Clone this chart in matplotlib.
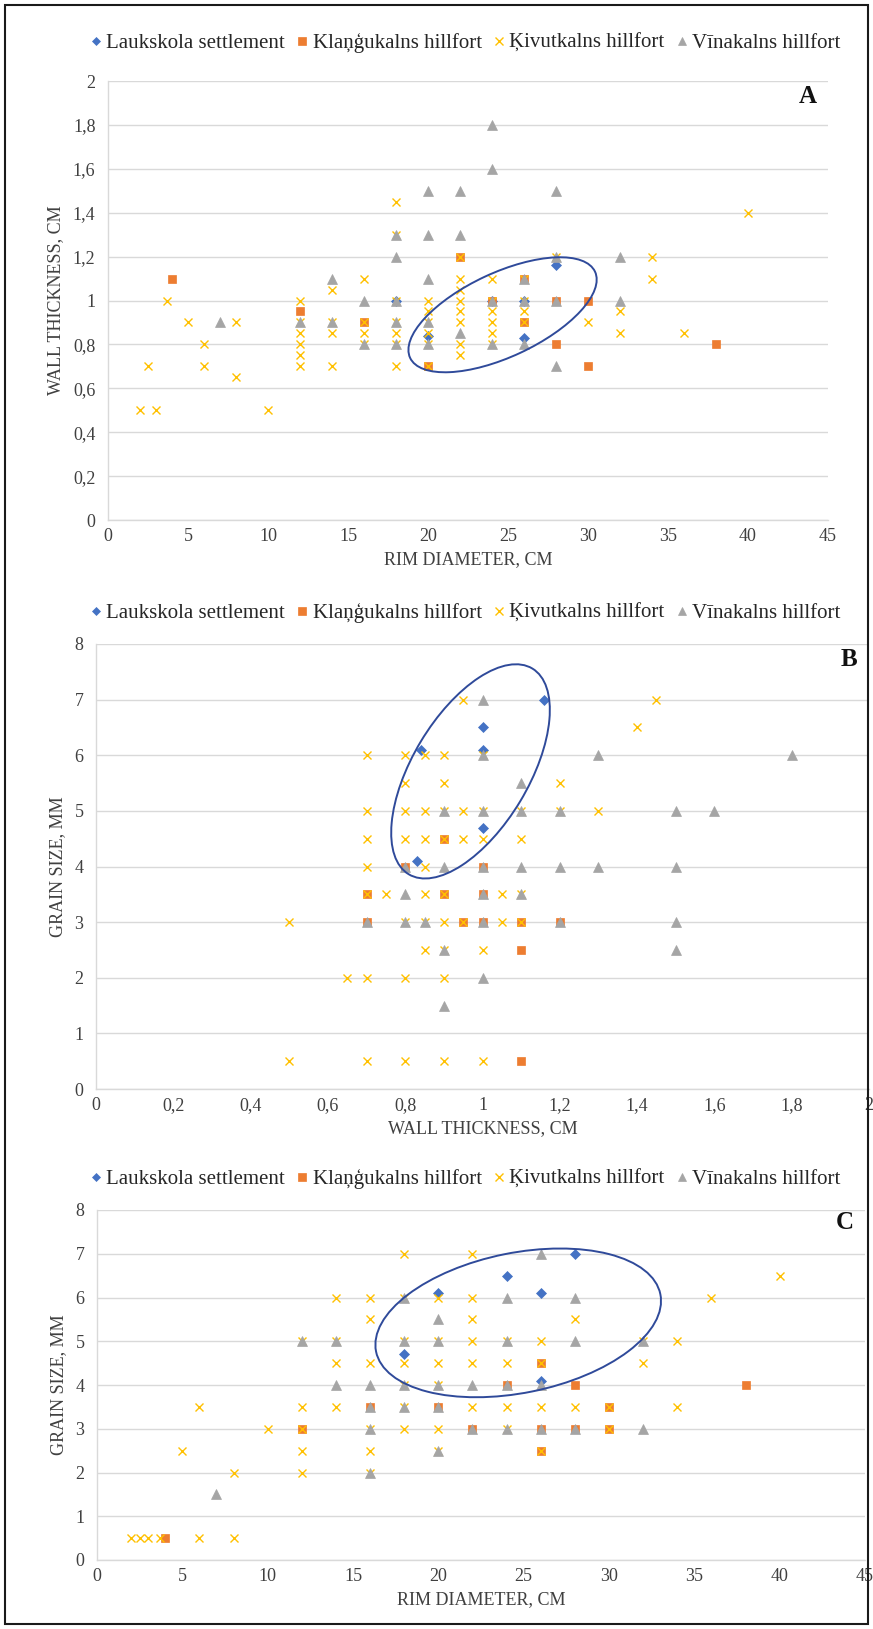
import matplotlib.pyplot as plt
from matplotlib.patches import Ellipse, Rectangle
from matplotlib.transforms import ScaledTranslation

plt.rcParams['font.family'] = ['Liberation Serif', 'DejaVu Serif']

names = ["Laukskola settlement", "Klaņģukalns hillfort", "Ķivutkalns hillfort", "Vīnakalns hillfort"]

# ---- panel A: rim diameter vs wall thickness
a_lauk_x = [18, 20, 24, 26, 26, 28]
a_lauk_y = [1.0, 0.84, 1.0, 1.0, 0.83, 1.16]
a_klan_x = [4, 12, 16, 20, 22, 24, 26, 26, 28, 28, 30, 30, 38]
a_klan_y = [1.1, 0.95, 0.9, 0.7, 1.2, 1.0, 1.1, 0.9, 1.0, 0.8, 1.0, 0.7, 0.8]
a_kiv_x = [2, 3, 2.5, 3.7, 5, 6, 6, 8, 8, 10,
           12, 12, 12, 12, 12, 12, 14, 14, 14, 14, 16, 16, 16, 16,
           18, 18, 18, 18, 18, 18, 18, 20, 20, 20, 20, 20, 20,
           22, 22, 22, 22, 22, 22, 22, 22, 24, 24, 24, 24, 24, 24,
           26, 26, 26, 26, 28, 30, 32, 32, 34, 34, 36, 40]
a_kiv_y = [0.5, 0.5, 0.7, 1.0, 0.9, 0.8, 0.7, 0.9, 0.65, 0.5,
           1.0, 0.9, 0.85, 0.8, 0.75, 0.7, 1.05, 0.9, 0.85, 0.7, 1.1, 0.9, 0.85, 0.8,
           1.45, 1.3, 1.0, 0.9, 0.85, 0.8, 0.7, 1.0, 0.95, 0.9, 0.85, 0.8, 0.7,
           1.2, 1.1, 1.05, 1.0, 0.95, 0.9, 0.8, 0.75, 1.1, 1.0, 0.95, 0.9, 0.85, 0.8,
           1.1, 1.0, 0.95, 0.9, 1.2, 0.9, 0.95, 0.85, 1.2, 1.1, 0.85, 1.4]
a_vin_x = [7, 12, 14, 14, 16, 16, 18, 18, 18, 18, 18, 20, 20, 20, 20, 20,
           22, 22, 22, 24, 24, 24, 24, 26, 26, 26, 28, 28, 28, 28, 32, 32]
a_vin_y = [0.9, 0.9, 1.1, 0.9, 1.0, 0.8, 1.3, 1.2, 1.0, 0.9, 0.8, 1.5, 1.3, 1.1, 0.9, 0.8,
           1.5, 1.3, 0.85, 1.8, 1.6, 1.0, 0.8, 1.1, 1.0, 0.8, 1.5, 1.2, 1.0, 0.7, 1.2, 1.0]

# ---- panel B: wall thickness vs grain size
b_lauk_x = [0.83, 0.84, 1.0, 1.0, 1.0, 1.16]
b_lauk_y = [4.1, 6.1, 6.5, 6.1, 4.7, 7.0]
b_klan_x = [0.7, 0.7, 0.8, 0.9, 0.9, 0.95, 1.0, 1.0, 1.0, 1.1, 1.1, 1.1, 1.2]
b_klan_y = [3.5, 3, 4, 4.5, 3.5, 3, 4, 3.5, 3, 3, 2.5, 0.5, 3]
b_kiv_x = [0.5, 0.5, 0.65,
           0.7, 0.7, 0.7, 0.7, 0.7, 0.7, 0.7, 0.75,
           0.8, 0.8, 0.8, 0.8, 0.8, 0.8, 0.8,
           0.85, 0.85, 0.85, 0.85, 0.85, 0.85, 0.85,
           0.9, 0.9, 0.9, 0.9, 0.9, 0.9, 0.9, 0.9, 0.9,
           0.95, 0.95, 0.95, 0.95, 1.0, 1.0, 1.0, 1.0, 1.0,
           1.05, 1.05, 1.1, 1.1, 1.1, 1.1, 1.2, 1.2, 1.3, 1.4, 1.45]
b_kiv_y = [3, 0.5, 2,
           6, 5, 4.5, 4, 3.5, 2, 0.5, 3.5,
           6, 5.5, 5, 4.5, 3, 2, 0.5,
           6, 5, 4.5, 4, 3.5, 3, 2.5,
           6, 5.5, 5, 4.5, 3.5, 3, 2.5, 2, 0.5,
           7, 5, 4.5, 3, 6, 5, 4.5, 2.5, 0.5,
           3.5, 3, 5, 4.5, 3.5, 3, 5.5, 5, 5, 6.5, 7]
b_vin_x = [0.7, 0.8, 0.8, 0.8, 0.85, 0.9, 0.9, 0.9, 0.9,
           1.0, 1.0, 1.0, 1.0, 1.0, 1.0, 1.0, 1.1, 1.1, 1.1, 1.1,
           1.2, 1.2, 1.2, 1.3, 1.3, 1.5, 1.5, 1.5, 1.5, 1.6, 1.8]
b_vin_y = [3, 4, 3.5, 3, 3, 5, 4, 2.5, 1.5,
           7, 6, 5, 4, 3.5, 3, 2, 5.5, 5, 4, 3.5,
           5, 4, 3, 6, 4, 5, 4, 3, 2.5, 5, 6]

# ---- panel C: rim diameter vs grain size
c_lauk_x = [18, 20, 24, 26, 26, 28]
c_lauk_y = [4.7, 6.1, 6.5, 6.1, 4.1, 7.0]
c_klan_x = [4, 12, 16, 20, 22, 24, 26, 26, 26, 28, 28, 30, 30, 38]
c_klan_y = [0.5, 3, 3.5, 3.5, 3, 4, 4.5, 3, 2.5, 4, 3, 3.5, 3, 4]
c_kiv_x = [2, 2.5, 3, 3.7, 6, 8, 5, 6, 8, 10,
           12, 12, 12, 12, 12, 14, 14, 14, 14, 16, 16, 16, 16, 16, 16,
           18, 18, 18, 18, 18, 18, 18, 20, 20, 20, 20, 20, 20,
           22, 22, 22, 22, 22, 22, 24, 24, 24, 24, 26, 26, 26, 26,
           28, 28, 30, 30, 32, 32, 34, 34, 36, 40]
c_kiv_y = [0.5, 0.5, 0.5, 0.5, 0.5, 0.5, 2.5, 3.5, 2, 3,
           5, 3.5, 3, 2.5, 2, 6, 5, 4.5, 3.5, 6, 5.5, 4.5, 3, 2.5, 2,
           7, 6, 5, 4.5, 4, 3.5, 3, 6, 5, 4.5, 4, 3, 2.5,
           7, 6, 5.5, 5, 4.5, 3.5, 5, 4.5, 3.5, 3, 5, 4.5, 3.5, 2.5,
           5.5, 3.5, 3.5, 3, 5, 4.5, 5, 3.5, 6, 6.5]
c_vin_x = [7, 12, 14, 14, 16, 16, 16, 16, 18, 18, 18, 18, 20, 20, 20, 20, 20,
           22, 22, 24, 24, 24, 24, 26, 26, 26, 28, 28, 28, 32, 32]
c_vin_y = [1.5, 5, 5, 4, 4, 3.5, 3, 2, 6, 5, 4, 3.5, 5.5, 5, 4, 3.5, 2.5,
           4, 3, 6, 5, 4, 3, 7, 4, 3, 6, 5, 3, 5, 3]

colors = ['#4472C4', '#ED7D31', '#FFC000', '#A5A5A5']
markers = ['D', 's', 'x', '^']
msizes = [5.0, 6.4, 6.0, 6.6]

fig = plt.figure(figsize=(8.73, 16.29), dpi=100)
W, H = 873, 1629


def axes_px(left, right, top, bottom):
    return fig.add_axes([left / W, 1 - bottom / H, (right - left) / W, (bottom - top) / H])


def panel(ax, xs, ys, xlim, xticks, xtlabels, ylim, yticks, ytlabels, xlabel, ylabel, letter, leg_y):
    for i in range(4):
        ax.plot(xs[i], ys[i], linestyle='none', marker=markers[i], color=colors[i],
                markersize=msizes[i], markeredgewidth=1.0 if markers[i] == 'x' else 0.5,
                label=names[i], zorder=3 + i)
    ax.set_xlim(*xlim)
    ax.set_ylim(*ylim)
    ax.set_xticks(xticks)
    ax.set_xticklabels(xtlabels)
    ax.set_yticks(yticks)
    ax.set_yticklabels(ytlabels)
    ax.tick_params(length=0, labelsize=13, colors='#404040')
    ax.tick_params(axis='x', pad=6)
    ax.tick_params(axis='y', pad=9)
    ax.grid(axis='y', color='#D9D9D9', linewidth=1.0)
    ax.set_axisbelow(True)
    for s in ['top', 'right']:
        ax.spines[s].set_visible(False)
    for s in ['left', 'bottom']:
        ax.spines[s].set_color('#D9D9D9')
        ax.spines[s].set_linewidth(1.0)
    ax.set_xlabel(xlabel, fontsize=13, color='#404040', labelpad=4)
    ax.set_ylabel(ylabel, fontsize=13, color='#404040', labelpad=6)
    ax.text(0.985, 0.965, letter, transform=ax.transAxes, ha='right', va='center',
            fontsize=18, fontweight='bold', color='#111111')
    fig.legend(*ax.get_legend_handles_labels(), loc='center',
               bbox_to_anchor=(464 / W, 1 - leg_y / H),
               ncol=4, frameon=False, fontsize=15, markerscale=0.85, handletextpad=0.1,
               columnspacing=0.42, handlelength=0.8, labelcolor='#262626')


def ring(ax, cx, cy, a_px, b_px, angle):
    off = ScaledTranslation(cx, cy, ax.transData)
    e = Ellipse((0, 0), 2 * a_px / 100, 2 * b_px / 100, angle=angle,
                transform=fig.dpi_scale_trans + off, fill=False,
                edgecolor='#2F4A9A', linewidth=1.4, zorder=10)
    ax.add_patch(e)


axA = axes_px(108, 828, 81, 520)
panel(axA, [a_lauk_x, a_klan_x, a_kiv_x, a_vin_x], [a_lauk_y, a_klan_y, a_kiv_y, a_vin_y],
      (0, 45), range(0, 50, 5), [str(v) for v in range(0, 50, 5)],
      (0, 2), [i * 0.2 for i in range(11)],
      ['0', '0,2', '0,4', '0,6', '0,8', '1', '1,2', '1,4', '1,6', '1,8', '2'],
      'RIM DIAMETER, CM', 'WALL THICKNESS, CM', 'A', 43)
ring(axA, 24.66, 0.935, 102, 42, 25)

axB = axes_px(96, 869, 644, 1089)
panel(axB, [b_lauk_x, b_klan_x, b_kiv_x, b_vin_x], [b_lauk_y, b_klan_y, b_kiv_y, b_vin_y],
      (0, 2), [i * 0.2 for i in range(11)],
      ['0', '0,2', '0,4', '0,6', '0,8', '1', '1,2', '1,4', '1,6', '1,8', '2'],
      (0, 8), range(9), [str(v) for v in range(9)],
      'WALL THICKNESS, CM', 'GRAIN SIZE, MM', 'B', 613)
ring(axB, 0.969, 5.71, 120, 58, 59)

axC = axes_px(97, 865, 1210, 1560)
panel(axC, [c_lauk_x, c_klan_x, c_kiv_x, c_vin_x], [c_lauk_y, c_klan_y, c_kiv_y, c_vin_y],
      (0, 45), range(0, 50, 5), [str(v) for v in range(0, 50, 5)],
      (0, 8), range(9), [str(v) for v in range(9)],
      'RIM DIAMETER, CM', 'GRAIN SIZE, MM', 'C', 1179)
ring(axC, 24.68, 5.42, 145, 70, 11.4)

fig.patches.append(Rectangle((5 / W, 5 / H), 863 / W, 1619 / H, transform=fig.transFigure,
                             fill=False, edgecolor='#1a1a1a', linewidth=1.5))

fig.savefig('out.png', dpi=100)
